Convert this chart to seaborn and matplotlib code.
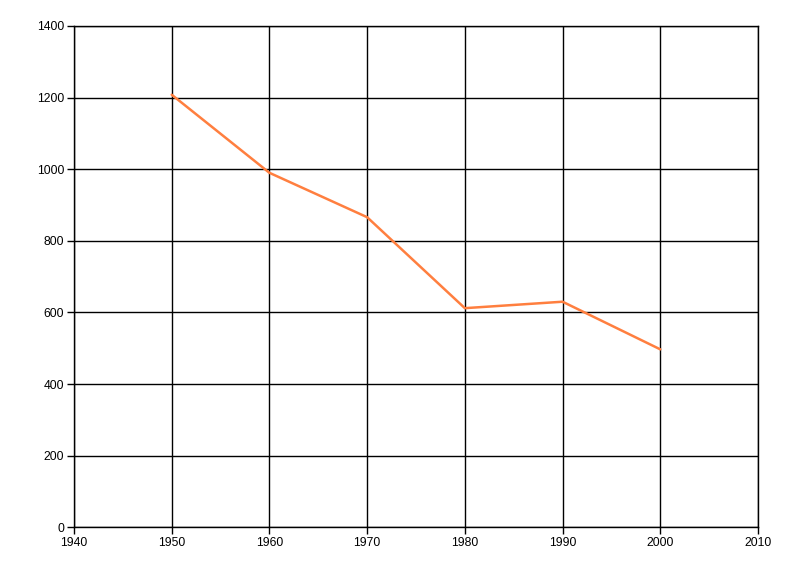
import pandas as pd
import matplotlib.pyplot as plt
import seaborn as sns

years = [1950, 1960, 1970, 1980, 1990, 2000]
values = [1208, 990, 866, 612, 630, 497]

df = pd.DataFrame({'Year': years, 'Value': values})

sns.set_style('white')
plt.rcParams['font.family'] = ['Liberation Sans', 'DejaVu Sans']

fig = plt.figure(figsize=(8, 5.76), dpi=100)
ax = fig.add_axes([0.0925, 0.0845, 0.855, 0.8704])

sns.lineplot(x='Year', y='Value', data=df, ax=ax, color='#FF7F3F', linewidth=1.8)

ax.set_xlim(1940, 2010)
ax.set_ylim(0, 1400)
ax.set_xticks(range(1940, 2011, 10))
ax.set_yticks(range(0, 1401, 200))
ax.grid(True, color='black', linewidth=1.0)
ax.set_axisbelow(True)
for s in ax.spines.values():
    s.set_color('black')
    s.set_linewidth(1.0)
ax.tick_params(axis='both', which='major', length=5, width=1.0, color='black',
               labelsize=8.7, labelcolor='black', left=True, bottom=True, pad=2)
ax.set_xlabel('')
ax.set_ylabel('')

fig.savefig('out.png', dpi=100)
